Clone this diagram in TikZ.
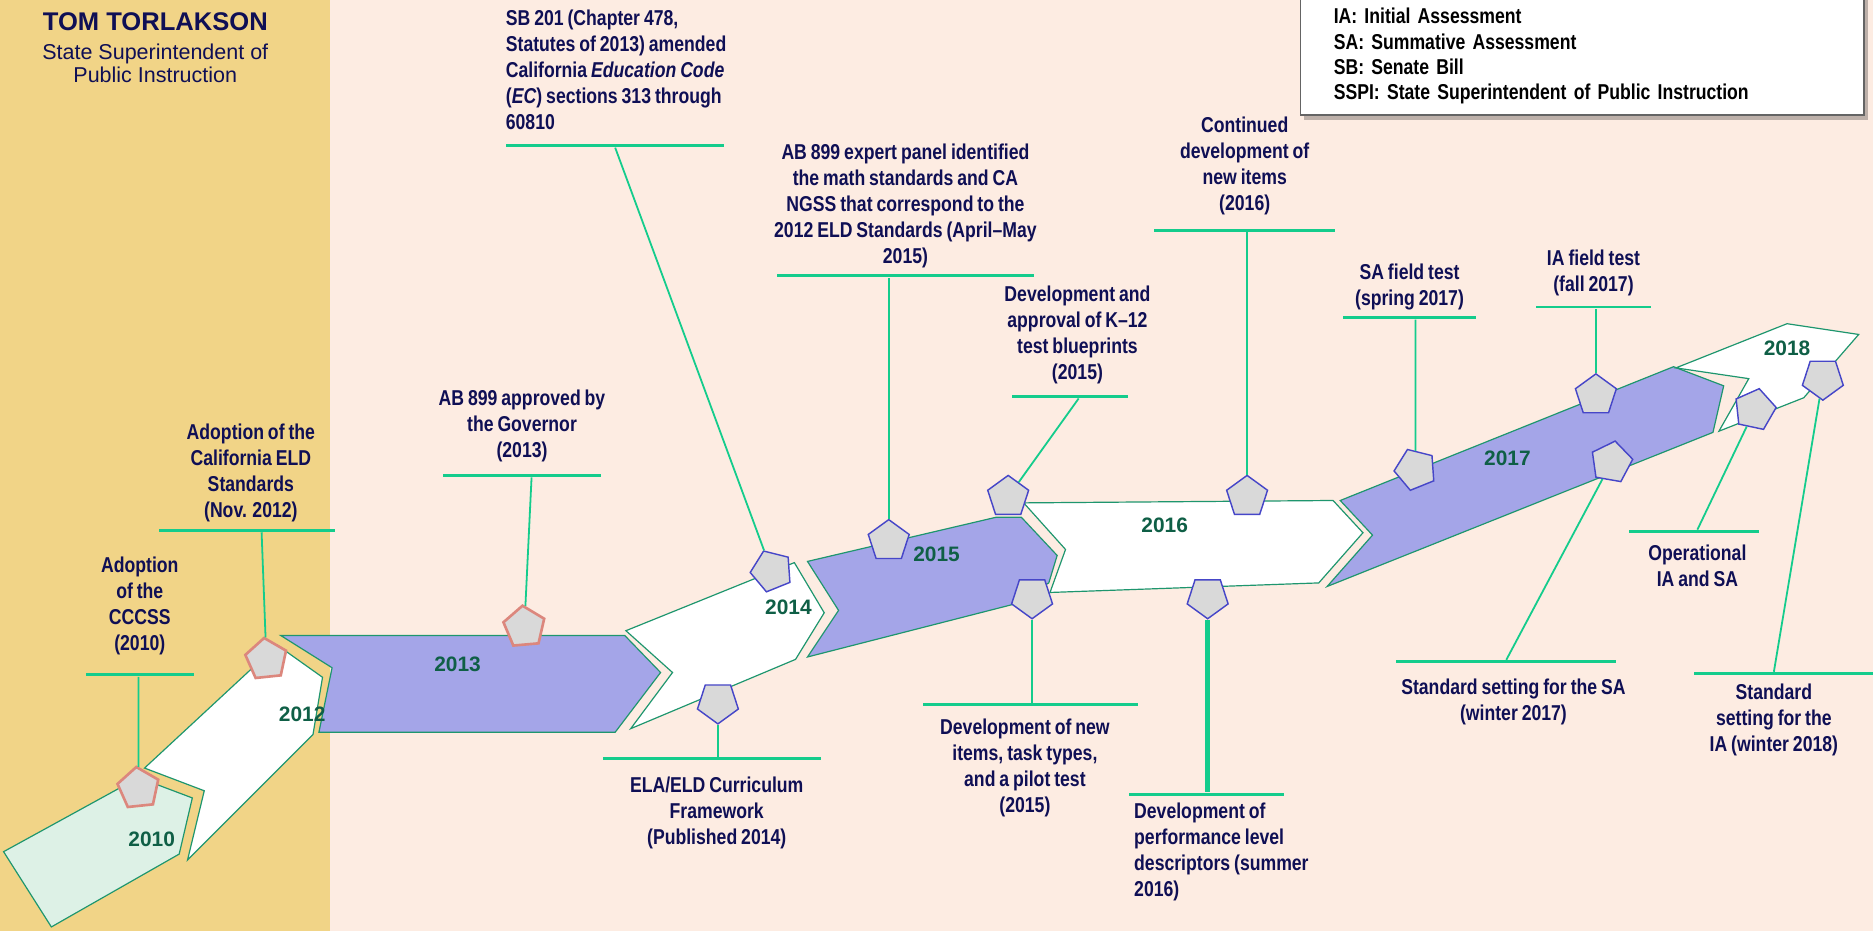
\documentclass[tikz,border=0pt]{standalone}
\usepackage{fontspec}
\setmainfont{Liberation Sans}
\newfontfamily\narrowfont{Liberation Sans}[FakeStretch=0.82, WordSpace=0.8]
\usetikzlibrary{positioning, shapes.geometric, shadows}

\definecolor{bandGold}{RGB}{241,212,135}
\definecolor{pageBg}{RGB}{253,236,226}
\definecolor{navy}{RGB}{15,15,85}
\definecolor{yearGreen}{RGB}{15,95,70}
\definecolor{ribbonBlue}{RGB}{164,165,232}
\definecolor{ribbonMint}{RGB}{221,241,230}
\definecolor{ribbonEdge}{RGB}{30,150,110}
\definecolor{connGreen}{RGB}{20,204,140}
\definecolor{pentGray}{RGB}{217,217,217}
\definecolor{pentBlue}{RGB}{70,70,200}
\definecolor{pentSalmon}{RGB}{220,135,125}
\definecolor{legendEdge}{RGB}{100,100,100}

\begin{document}
\begin{tikzpicture}[x=0.5pt, y=-0.5pt,
		% Arrow-shaped pieces of the timeline ribbon
		ribbon/.style={draw=ribbonEdge, line width=0.5pt},
		% Pentagon markers for the milestones
		pent/.style={regular polygon, regular polygon sides=5, minimum size=18pt, inner sep=0pt,
			fill=pentGray, draw=pentBlue, line width=0.6pt},
		pent-red/.style={pent, draw=pentSalmon, line width=1.1pt},
		pent-down/.style={pent, rotate=180},
		% Milestone texts and their green rules
		lbl/.style={font=\narrowfont\bfseries\fontsize{9}{10.9}\selectfont, text=navy, align=center,
			inner sep=0pt, execute at begin node=\strut, execute at end node=\strut},
		lbl-left/.style={lbl, align=left},
		uline/.style={fill=connGreen, inner sep=0pt, minimum height=1.2pt, minimum width=#1},
		conn/.style={draw=connGreen, line width=0.75pt},
		year/.style={font=\bfseries\fontsize{8.75}{10}\selectfont, text=yearGreen},
		% Abbreviation box
		legendbox/.style={draw=legendEdge, fill=white, line width=0.6pt, text=black, align=left,
			font=\narrowfont\bfseries\fontsize{9}{10.65}\selectfont, text width=208pt,
			inner xsep=14pt, inner ysep=4.5pt,
			drop shadow={shadow xshift=1.5pt, shadow yshift=-2pt, fill=black, opacity=0.25}}
		]
		\useasboundingbox (0,0) rectangle (1568,779);
		
		% ==============================================================================
		% 1. BACKGROUND & TITLE
		% ==============================================================================
		\fill[bandGold] (0,0) rectangle (276,779);
		\fill[pageBg] (276,0) rectangle (1568,779);
		
		\node[font=\bfseries\fontsize{10.7}{12}\selectfont, text=navy] (title) at (130,18) {TOM TORLAKSON};
		\node[font=\fontsize{9}{10}\selectfont, text=navy, align=center] (subtitle) at (130,53) {State Superintendent of\\Public Instruction};
		
		% ==============================================================================
		% 2. RIBBON
		% ==============================================================================
		\filldraw[ribbon, fill=ribbonMint] (3,713) -- (116,651) -- (161,668) -- (150,715) -- (43,776) -- cycle;
		\filldraw[ribbon, fill=white] (121,643) -- (232,540) -- (270,567) -- (262,615) -- (157,720) -- (171,662) -- cycle;
		\filldraw[ribbon, fill=ribbonBlue] (235,532) -- (523,532) -- (553,563) -- (515,613) -- (267,613) -- (278,559) -- cycle;
		\filldraw[ribbon, fill=white] (524,528) -- (665,471) -- (690,513) -- (666,552) -- (528,610) -- (563,563) -- cycle;
		\filldraw[ribbon, fill=ribbonBlue] (676,470) -- (834,433) -- (855,433) -- (885,465) -- (878,488) -- (848,506) -- (676,550) -- (702,511) -- cycle;
		\filldraw[ribbon, fill=white] (857,421) -- (1116,419) -- (1141,446) -- (1104,488) -- (879,496) -- (892,460) -- cycle;
		\filldraw[ribbon, fill=ribbonBlue] (1122,419) -- (1401,307) -- (1443,323) -- (1434,362) -- (1111,491) -- (1149,448) -- cycle;
		\filldraw[ribbon, fill=white] (1403,308) -- (1496,271) -- (1556,280) -- (1510,333) -- (1439,361) -- (1464,317) -- cycle;
		
		\node[year] (y2010) at (127,703) {2010};
		\node[year] (y2012) at (253,598) {2012};
		\node[year] (y2013) at (383,556) {2013};
		\node[year] (y2014) at (660,508) {2014};
		\node[year] (y2015) at (784,464) {2015};
		\node[year] (y2016) at (975,440) {2016};
		\node[year] (y2017) at (1262,384) {2017};
		\node[year] (y2018) at (1496,292) {2018};
		
		% ==============================================================================
		% 3. MARKERS
		% ==============================================================================
		\node[pent-red, rotate=6] (p10) at (116,660) {};
		\node[pent-red, rotate=6] (p12) at (223,552) {};
		\node[pent-red, rotate=5] (p13) at (439,525) {};
		\node[pent, rotate=22] (p14t) at (646,478) {};
		\node[pent-down] (p14b) at (601,588) {};
		\node[pent] (p15t) at (744,453) {};
		\node[pent] (p15a) at (844,416) {};
		\node[pent-down] (p15b) at (864,500) {};
		\node[pent] (p16t) at (1044,416) {};
		\node[pent-down] (p16b) at (1011,500) {};
		\node[pent, rotate=22] (p17a) at (1185,393) {};
		\node[pent] (p17b) at (1336,331) {};
		\node[pent, rotate=-10] (p17c) at (1349,387) {};
		\node[pent, rotate=-12] (pOp) at (1469,343) {};
		\node[pent-down] (p18) at (1526,317) {};
		
		% ==============================================================================
		% 4. MILESTONES ABOVE THE RIBBON
		% ==============================================================================
		\node[uline=45pt] (u1) at (117,565) {};
		\node[lbl, above=5.75pt of u1] (l1) {Adoption\\of the\\CCCSS\\(2010)};
		
		\node[uline=73.5pt] (u2) at (207,444) {};
		\node[lbl, above=1pt of u2, xshift=1.5pt] (l2) {Adoption of the\\California ELD\\Standards\\(Nov. 2012)};
		
		\node[uline=66pt] (u3) at (437,398) {};
		\node[lbl, above=3.25pt of u3] (l3) {AB 899 approved by\\the Governor\\(2013)};
		
		\node[uline=91.5pt] (u4) at (515,122) {};
		\node[lbl-left, above=2.6pt of u4.north west, anchor=south west] (l4) {SB 201 (Chapter 478,\\Statutes of 2013) amended\\California \textit{Education Code}\\(\textit{EC}) sections 313 through\\60810};
		
		\node[uline=107.5pt] (u5) at (758,231) {};
		\node[lbl, above=0.8pt of u5] (l5) {AB 899 expert panel identified\\the math standards and CA\\NGSS that correspond to the\\2012 ELD Standards (April–May\\2015)};
		
		\node[uline=48.5pt] (u6) at (896,332) {};
		\node[lbl, above=2.75pt of u6, xshift=3pt] (l6) {Development and\\approval of K–12\\test blueprints\\(2015)};
		
		\node[uline=76pt] (u7) at (1042,193) {};
		\node[lbl, above=4.25pt of u7] (l7) {Continued\\development of\\new items\\(2016)};
		
		\node[uline=55.5pt] (u11) at (1180,266) {};
		\node[lbl, above=0.75pt of u11] (l11) {SA field test\\(spring 2017)};
		
		\node[uline=48pt] (u12) at (1334,257) {};
		\node[lbl, above=2.25pt of u12] (l12) {IA field test\\(fall 2017)};
		
		% ==============================================================================
		% 5. MILESTONES BELOW THE RIBBON
		% ==============================================================================
		\node[uline=91.5pt] (u8) at (596,635) {};
		\node[lbl, below=6.8pt of u8, xshift=2pt] (l8) {ELA/ELD Curriculum\\Framework\\(Published 2014)};
		
		\node[uline=90pt] (u9) at (863,590) {};
		\node[lbl, below=5pt of u9, xshift=-2.5pt] (l9) {Development of new\\items, task types,\\and a pilot test\\(2015)};
		
		\node[uline=64.5pt] (u10) at (1010,665) {};
		\node[lbl-left, below=2.7pt of u10.south west, anchor=north west, xshift=2pt] (l10) {Development of\\performance level\\descriptors (summer\\2016)};
		
		\node[uline=54.5pt] (u13) at (1418,445) {};
		\node[lbl, below=4.5pt of u13, xshift=1.5pt] (l13) {Operational\\IA and SA};
		
		\node[uline=92pt] (u14) at (1261,554) {};
		\node[lbl, below=6pt of u14, xshift=3pt] (l14) {Standard setting for the SA\\(winter 2017)};
		
		\node[uline=75pt] (u15) at (1493,564) {};
		\node[lbl, below=3.25pt of u15, xshift=-4pt] (l15) {Standard\\setting for the\\IA (winter 2018)};
		
		% ==============================================================================
		% 6. CONNECTORS
		% ==============================================================================
		\draw[conn] (u1.south -| p10) -- (p10);
		\draw[conn] ([xshift=6pt]u2.south) -- (p12);
		\draw[conn] ([xshift=4pt]u3.south) -- (p13);
		\draw[conn] (u4.south) -- (p14t);
		\draw[conn] (u5.south -| p15t) -- (p15t);
		\draw[conn] ([xshift=3.5pt]u6.south) -- (p15a);
		\draw[conn] (u7.south -| p16t) -- (p16t);
		\draw[conn] (u11.south -| p17a) -- (p17a);
		\draw[conn] (u12.south -| p17b) -- (p17b);
		\draw[conn] (p14b) -- (u8.north -| p14b);
		\draw[conn] (p15b) -- (u9.north -| p15b);
		\draw[conn, line width=2pt] (p16b) -- (u10.north -| p16b);
		\draw[conn] (pOp) -- ([xshift=1.5pt]u13.north);
		\draw[conn] (p17c) -- (u14.north);
		\draw[conn] (p18) -- ([xshift=-4pt]u15.north);
		
		% ==============================================================================
		% 7. ABBREVIATIONS
		% ==============================================================================
		\node[legendbox, anchor=south west] (legend) at (1088,97) {\rule{0pt}{20pt}IA: Initial Assessment\\SA: Summative Assessment\\SB: Senate Bill\\SSPI: State Superintendent of Public Instruction};
	\end{tikzpicture}
\end{document}
